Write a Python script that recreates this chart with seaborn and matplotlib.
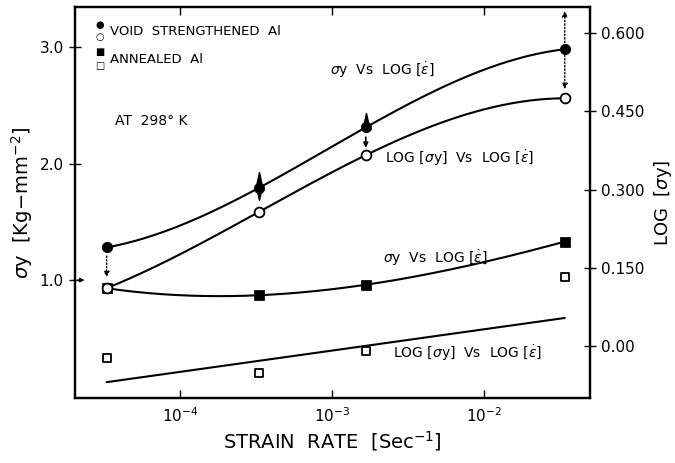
import numpy as np
import pandas as pd
import matplotlib
matplotlib.use("Agg")
import matplotlib.pyplot as plt
from matplotlib.ticker import LogLocator, FixedLocator, FixedFormatter, NullLocator
from matplotlib.path import Path
import seaborn as sns

# ---------------- data ----------------
strain_rate = [3.3e-5, 3.3e-4, 1.67e-3, 3.4e-2]
void_sigma = [1.28, 1.79, 2.31, 2.98]          # filled circles, left axis
void_log_sigma = [0.111, 0.257, 0.366, 0.475]  # open circles, right axis
ann_sigma = [0.93, 0.87, 0.96, 1.33]           # filled squares, left axis
ann_log_sigma = [-0.023, -0.052, -0.010, 0.132]  # open squares, right axis
ann_log_fit_ends = [-0.069, 0.054]             # straight line for open squares (first/last strain rate)

left_ticks = [1.0, 2.0, 3.0]
left_ticklabels = ["1.0", "2.0", "3.0"]
right_ticks = [0.0, 0.15, 0.30, 0.45, 0.60]
right_ticklabels = ["0.00", "0.150", "0.300", "0.450", "0.600"]

sns.set_theme(style="ticks")
plt.rcParams["font.family"] = ["DejaVu Sans"]
plt.rcParams["mathtext.fontset"] = "dejavusans"
for k in ("text.color", "axes.labelcolor", "xtick.color", "ytick.color", "axes.edgecolor"):
    plt.rcParams[k] = "black"

fig = plt.figure(figsize=(6.75, 4.63), dpi=100)
ax = fig.add_axes([0.111, 0.140, 0.763, 0.845])
ax2 = ax.twinx()

lx = np.log10(strain_rate)
dense = np.linspace(lx[0], lx[-1], 200)


def smooth(y):
    c = np.polyfit(lx, y, 3)
    return np.polyval(c, dense)


lw = 1.5
sns.lineplot(x=10 ** dense, y=smooth(void_sigma), ax=ax, color="black", lw=lw)
sns.lineplot(x=10 ** dense, y=smooth(ann_sigma), ax=ax, color="black", lw=lw)
sns.lineplot(x=10 ** dense, y=smooth(void_log_sigma), ax=ax2, color="black", lw=lw)
sns.lineplot(x=[strain_rate[0], strain_rate[-1]], y=ann_log_fit_ends, ax=ax2, color="black", lw=lw)

df_left = pd.DataFrame({"rate": strain_rate * 2,
                        "val": void_sigma + ann_sigma,
                        "kind": ["void"] * 4 + ["ann"] * 4})
sns.scatterplot(data=df_left[df_left.kind == "void"], x="rate", y="val", ax=ax,
                marker="o", s=55, color="black", edgecolor="black", zorder=5)
sns.scatterplot(data=df_left[df_left.kind == "ann"], x="rate", y="val", ax=ax,
                marker="s", s=45, color="black", edgecolor="black", zorder=5)
sns.scatterplot(x=strain_rate, y=void_log_sigma, ax=ax2, marker="o", s=50,
                color="white", edgecolor="black", linewidth=1.3, zorder=5)
sns.scatterplot(x=strain_rate, y=ann_log_sigma, ax=ax2, marker="s", s=35,
                color="white", edgecolor="black", linewidth=1.3, zorder=5)

# spindle (scatter) marks at 2nd and 3rd points
spindle = Path([(0, -1), (0.22, 0), (0, 1), (-0.22, 0), (0, -1)],
               [Path.MOVETO, Path.LINETO, Path.LINETO, Path.LINETO, Path.CLOSEPOLY])
ax.plot([strain_rate[1]], [void_sigma[1] + 0.02], marker=spindle, ms=20, color="black", zorder=6)
ax.plot([strain_rate[2]], [void_sigma[2] + 0.05], marker=spindle, ms=13, color="black", zorder=6)

# arrows
ax.annotate("", xy=(strain_rate[0], ann_sigma[0] + 0.07), xytext=(strain_rate[0], void_sigma[0] - 0.05),
            arrowprops=dict(arrowstyle="-|>", linestyle=(0, (1, 1.5)), color="black", lw=1.0,
                            mutation_scale=8))
ax.annotate("", xy=(strain_rate[2], void_sigma[2] - 0.2), xytext=(strain_rate[2], void_sigma[2] - 0.06),
            arrowprops=dict(arrowstyle="-|>", color="black", lw=1.2, mutation_scale=7))
ax2.annotate("", xy=(strain_rate[3], 0.648), xytext=(strain_rate[3], void_log_sigma[3] + 0.012),
             arrowprops=dict(arrowstyle="<|-|>", linestyle=(0, (1, 1.5)), color="black", lw=1.0,
                             mutation_scale=8))
ax.annotate("", xy=(0.024, 1.0), xycoords=("axes fraction", "data"),
            xytext=(0.0, 1.0), textcoords=("axes fraction", "data"),
            arrowprops=dict(arrowstyle="-|>", color="black", lw=1.0, mutation_scale=6))

# axes limits / scales
ax.set_xscale("log")
ax.set_xlim(10 ** -4.69, 10 ** -1.303)
ax.set_ylim(-0.013, 3.343)
ax2.set_ylim(-0.0997, 0.650)

ax.xaxis.set_major_locator(LogLocator(base=10, numticks=10))
ax.xaxis.set_minor_locator(NullLocator())
ax.yaxis.set_major_locator(FixedLocator(left_ticks))
ax.yaxis.set_major_formatter(FixedFormatter(left_ticklabels))
ax2.yaxis.set_major_locator(FixedLocator(right_ticks))
ax2.yaxis.set_major_formatter(FixedFormatter(right_ticklabels))

ax.tick_params(axis="x", which="major", direction="in", top=True, length=6, width=1,
               labelsize=11, pad=6, color="black")
ax.tick_params(axis="y", direction="inout", length=9, width=1, labelsize=11, color="black")
ax2.tick_params(axis="y", direction="inout", length=9, width=1, labelsize=11, color="black")

for a in (ax, ax2):
    for s in a.spines.values():
        s.set_color("black")
        s.set_linewidth(1.6)

ax.set_xlabel("STRAIN  RATE  [Sec$^{-1}$]", fontsize=14, labelpad=3)
ax.set_ylabel("$\\sigma$y  [Kg$-$mm$^{-2}$]", fontsize=14, labelpad=3)
ax2.set_ylabel("LOG  [$\\sigma$y]", fontsize=13, labelpad=5)

# annotations
fs = 10
ax.text(0.495, 0.839, "$\\sigma$y  Vs  LOG [$\\dot{\\epsilon}$]", transform=ax.transAxes,
        fontsize=fs, va="center")
ax.text(0.602, 0.614, "LOG [$\\sigma$y]  Vs  LOG [$\\dot{\\epsilon}$]", transform=ax.transAxes,
        fontsize=fs, va="center")
ax.text(0.598, 0.358, "$\\sigma$y  Vs  LOG [$\\dot{\\epsilon}$]", transform=ax.transAxes,
        fontsize=fs, va="center")
ax.text(0.617, 0.115, "LOG [$\\sigma$y]  Vs  LOG [$\\dot{\\epsilon}$]", transform=ax.transAxes,
        fontsize=fs, va="center")
ax.text(0.078, 0.708, "AT  298° K", transform=ax.transAxes, fontsize=fs, va="center")

# legend block
ax.text(0.049, 0.954, "●", transform=ax.transAxes, fontsize=7, ha="center", va="center")
ax.text(0.049, 0.923, "○", transform=ax.transAxes, fontsize=7, ha="center", va="center")
ax.text(0.068, 0.938, "VOID  STRENGTHENED  Al", transform=ax.transAxes, fontsize=9.5, va="center")
ax.text(0.049, 0.884, "■", transform=ax.transAxes, fontsize=7, ha="center", va="center")
ax.text(0.049, 0.850, "□", transform=ax.transAxes, fontsize=7, ha="center", va="center")
ax.text(0.068, 0.866, "ANNEALED  Al", transform=ax.transAxes, fontsize=9.5, va="center")

fig.savefig("out.png", dpi=100)
